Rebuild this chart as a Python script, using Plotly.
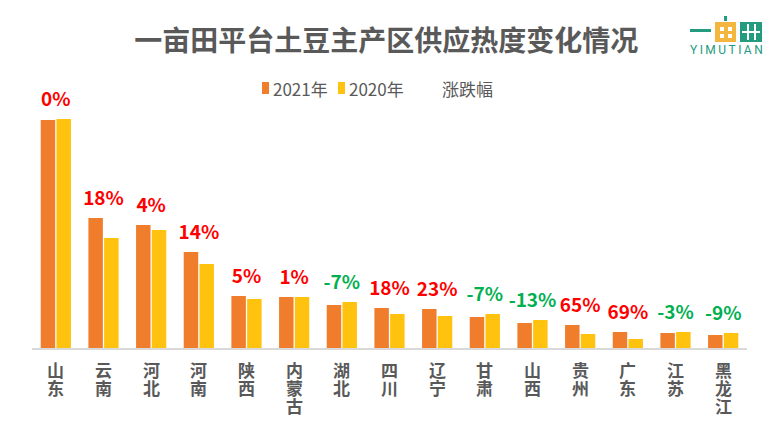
import plotly.graph_objects as go

provinces = ["山东", "云南", "河北", "河南", "陕西", "内蒙古", "湖北", "四川",
             "辽宁", "甘肃", "山西", "贵州", "广东", "江苏", "黑龙江"]
heat_2021 = [228, 130, 123, 96, 52, 51, 43, 40, 39, 31, 25, 23, 16, 15, 13]
heat_2020 = [229, 110, 118, 84, 49, 51, 46, 34, 32, 34, 28, 14, 9, 16, 15]
change_labels = ["0%", "18%", "4%", "14%", "5%", "1%", "-7%", "18%",
                 "23%", "-7%", "-13%", "65%", "69%", "-3%", "-9%"]

# the page body has an 8px margin, so the figure is shrunk by that much
OFF = 8
W, H = 772 - OFF, 429 - OFF
L, T = 32 - OFF, 60 - OFF
PW, PH = 715, 288
R, B = W - L - PW, H - T - PH
FONT = "Noto Sans CJK SC"
GRAY = "#595959"
ORANGE = "#F07D2C"
YELLOW = "#FFC20E"


def px(x):
    # reference pixel x -> paper
    return (x - OFF - L) / PW


def py(y):
    # reference pixel y -> paper
    return (T + PH - (y - OFF)) / PH


def box(x0, y0, x1, y1, color):
    return dict(type="rect", xref="paper", yref="paper", x0=px(x0), x1=px(x1),
                y0=py(y1), y1=py(y0), fillcolor=color, line=dict(width=0), layer="above")


label_colors = ["#00B050" if s.startswith("-") else "#FF0000" for s in change_labels]
label_y = [max(a, b) + 8 for a, b in zip(heat_2021, heat_2020)]

fig = go.Figure()
fig.add_trace(go.Bar(x=provinces, y=heat_2021, name="2021年",
                     marker=dict(color=ORANGE, line=dict(width=0))))
fig.add_trace(go.Bar(x=provinces, y=heat_2020, name="2020年",
                     marker=dict(color=YELLOW, line=dict(width=0))))
fig.add_trace(go.Scatter(x=provinces, y=label_y, mode="text", text=change_labels,
                         name="涨跌幅", textposition="top center",
                         textfont=dict(family=FONT, size=19, color=label_colors, weight="bold")))

annotations = []
# vertical category labels, one character per line
for p in provinces:
    for i, ch in enumerate(p):
        annotations.append(dict(text=ch, x=p, xref="x", y=0, yref="paper",
                                yshift=-21 - 18 * i, xanchor="center", yanchor="middle",
                                showarrow=False,
                                font=dict(family=FONT, size=17, color=GRAY, weight="bold")))

# legend drawn by hand
shapes = [box(262, 82, 269, 94, ORANGE), box(338, 82, 345, 94, YELLOW)]
for txt, lx in (("2021年", 271), ("2020年", 347), ("涨跌幅", 440)):
    annotations.append(dict(text=txt, xref="paper", yref="paper", x=px(lx), y=py(88),
                            xanchor="left", yanchor="middle", showarrow=False,
                            font=dict(family=FONT, size=17, color=GRAY)))

# logo
green = "#239B7E"
shapes += [
    box(690, 29, 711, 32, green),
    box(715, 22, 736, 42, "#F3B73F"),
    box(740, 22, 762, 42, green),
    box(724, 16, 727, 21, green),
]
for wx in (720, 728):
    for wy in (27, 34):
        shapes.append(box(wx, wy, wx + 4, wy + 4, "white"))
for gx in (747, 754):
    shapes.append(box(gx, 24, gx + 2, 40, "white"))
shapes.append(box(742, 31, 760, 33, "white"))
annotations.append(dict(text="Y\u2009I\u2009M\u2009U\u2009T\u2009I\u2009A\u2009N",
                        xref="paper", yref="paper", x=px(726), y=py(50),
                        xanchor="center", yanchor="middle", showarrow=False,
                        font=dict(family="Roboto", size=12, color=green)))

fig.update_layout(
    width=W, height=H,
    margin=dict(l=L, r=R, t=T, b=B),
    plot_bgcolor="white", paper_bgcolor="white",
    barmode="group", bargap=0.34, bargroupgap=0.08,
    showlegend=False,
    title=dict(text="一亩田平台土豆主产区供应热度变化情况", x=px(386), xanchor="center",
               y=1 - (41 - OFF) / H, yanchor="middle",
               font=dict(family=FONT, size=28, color=GRAY, weight="bold")),
    shapes=shapes,
    annotations=annotations,
)
fig.update_xaxes(range=[-0.5, len(provinces) - 0.5], showticklabels=False,
                 showline=True, linecolor="#D9D9D9", linewidth=2, ticks="", showgrid=False)
fig.update_yaxes(range=[0, PH], visible=False, showgrid=False)

fig.write_html("out.html")
